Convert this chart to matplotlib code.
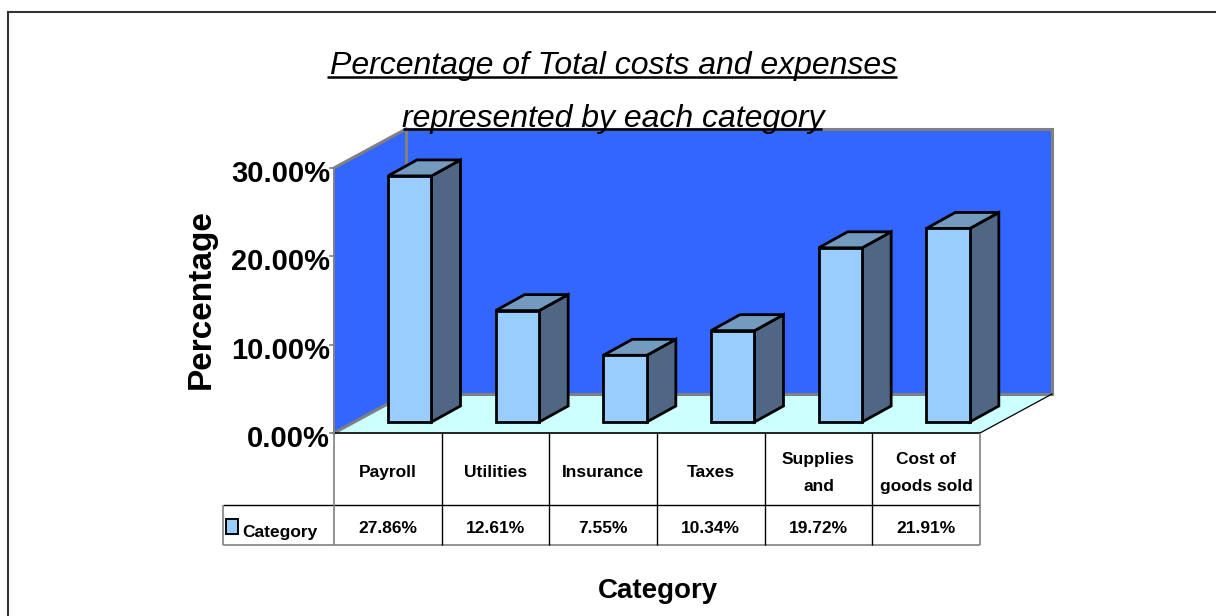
import matplotlib
matplotlib.use("Agg")
import matplotlib.pyplot as plt
from matplotlib.patches import Polygon, Rectangle
from matplotlib.transforms import Affine2D

categories = ["Payroll", "Utilities", "Insurance", "Taxes", "Supplies\nand", "Cost of\ngoods sold"]
values = [27.86, 12.61, 7.55, 10.34, 19.72, 21.91]
value_labels = ["27.86%", "12.61%", "7.55%", "10.34%", "19.72%", "21.91%"]
y_ticks = [0, 10, 20, 30]
y_tick_labels = ["0.00%", "10.00%", "20.00%", "30.00%"]

W, H = 1216, 616
FONT = "Liberation Sans"
BLUE = "#3366FF"
FLOOR = "#CCFFFF"
FRONT = "#99CCFF"
SIDE = "#4F6785"
TOP = "#739ABF"
GRAY = "#808080"

fig = plt.figure(figsize=(W / 100, H / 100), dpi=100, facecolor="white")

# plano frontal del grafico en pixeles
x0, x1, y0, y1 = 334, 980, 433, 168
ax = fig.add_axes([x0 / W, (H - y0) / H, (x1 - x0) / W, (y0 - y1) / H])
ax.set_xlim(0, len(categories))
ax.set_ylim(0, 30)
ax.axis("off")

# pixeles -> unidades de datos
ux = (x1 - x0) / len(categories)
uy = (y0 - y1) / 30
depth_x, depth_y = 72 / ux, 39 / uy       # profundidad de la caja
bar_dx, bar_dy = 29 / ux, 16 / uy         # profundidad de cada barra
bar_w = 43.5 / ux
off_x, off_y = 0.5015, 11 / uy            # posicion de la barra dentro de la celda

# transform en pixeles de imagen para marco y tabla
px = Affine2D().scale(1, -1).translate(0, H)


def poly(ax_, pts, fc, ec="none", lw=0, z=1):
    ax_.add_patch(Polygon(pts, closed=True, facecolor=fc, edgecolor=ec, linewidth=lw,
                          joinstyle="miter", clip_on=False, zorder=z))


def line_px(xs, ys, color="black", lw=1.0, z=6):
    fig.add_artist(plt.Line2D(xs, ys, color=color, linewidth=lw, transform=px, zorder=z,
                              solid_capstyle="butt"))


n = len(categories)
# paredes y piso
poly(ax, [(depth_x, 30 + depth_y), (n + depth_x, 30 + depth_y), (n + depth_x, depth_y), (depth_x, depth_y)], BLUE, z=1)
poly(ax, [(0, 0), (0, 30), (depth_x, 30 + depth_y), (depth_x, depth_y)], BLUE, z=1)
poly(ax, [(0, 0), (n, 0), (n + depth_x, depth_y), (depth_x, depth_y)], FLOOR, z=2)

gray_lines = [
    ([0, depth_x], [30, 30 + depth_y]),
    ([depth_x, n + depth_x], [30 + depth_y, 30 + depth_y]),
    ([n + depth_x, n + depth_x], [30 + depth_y, depth_y]),
    ([depth_x, depth_x], [30 + depth_y, depth_y]),
    ([depth_x, n + depth_x], [depth_y, depth_y]),
    ([0, depth_x], [0, depth_y]),
]
for xs, ys in gray_lines:
    ax.plot(xs, ys, color=GRAY, lw=2.2, clip_on=False, zorder=3, solid_capstyle="projecting")
ax.plot([n, n + depth_x], [0, depth_y], color="black", lw=0.9, clip_on=False, zorder=3)
ax.plot([0, n], [0, 0], color="black", lw=1.2, clip_on=False, zorder=3)

# barras
for i, v in enumerate(values):
    left = i + off_x
    right = left + bar_w
    base = off_y
    top = off_y + v
    poly(ax, [(right, base), (right + bar_dx, base + bar_dy), (right + bar_dx, top + bar_dy), (right, top)],
         SIDE, "black", 2.0, z=4)
    poly(ax, [(left, top), (right, top), (right + bar_dx, top + bar_dy), (left + bar_dx, top + bar_dy)],
         TOP, "black", 2.0, z=4)
    ax.bar(left, v, width=bar_w, bottom=base, align="edge", color=FRONT, edgecolor="black",
           linewidth=2.0, clip_on=False, zorder=5)

# eje y
ax.plot([0, 0], [0, 30], color=GRAY, lw=1.4, clip_on=False, zorder=6)
for t, lab in zip(y_ticks, y_tick_labels):
    ax.plot([-4 / ux, 0], [t, t], color=GRAY, lw=1.2, clip_on=False, zorder=6)
    ax.text(-4 / ux, t - 6 / uy, lab, ha="right", va="center", fontsize=21, fontweight="bold",
            family=FONT, color="black", clip_on=False)

# tabla de datos
row1, row2 = 504.5, 545
left_tb = 222.5
line_px([left_tb, x1], [row1, row1])
line_px([left_tb, x1], [row2, row2], GRAY, 1.2)
line_px([left_tb, left_tb], [row1, row2], GRAY, 1.2)
line_px([x0, x0], [y0, row2], GRAY, 1.2)
line_px([x1, x1], [y0, row2], GRAY, 1.2)
for i in range(1, n):
    xp = x0 + i * ux
    line_px([xp, xp], [y0, row2], "black", 1.0)

for i, (cat, lab) in enumerate(zip(categories, value_labels)):
    xp = x0 + (i + 0.5) * ux
    fig.text(xp, (y0 + row1) / 2 + 4, cat, transform=px, ha="center", va="center", fontsize=12.5,
             fontweight="bold", family=FONT, linespacing=2.0)
    fig.text(xp, (row1 + row2) / 2 + 4, lab, transform=px, ha="center", va="center", fontsize=12.5,
             fontweight="bold", family=FONT)

# leyenda
fig.add_artist(Rectangle((226, 519), 12, 15, transform=px, facecolor=FRONT, edgecolor="black", linewidth=1.4))
fig.text(242, 532, "Category", transform=px, ha="left", va="center", fontsize=12.5, fontweight="bold", family=FONT)

# titulos
fig.text(613.5, 66, "Percentage of Total costs and expenses", transform=px, ha="center", va="center",
         fontsize=23, fontstyle="italic", family=FONT, zorder=8)
fig.text(613, 119, "represented by each category", transform=px, ha="center", va="center",
         fontsize=23, fontstyle="italic", family=FONT, zorder=8)
line_px([327, 897], [77, 77], "black", 1.8, z=8)
line_px([403, 822], [129, 129], "black", 1.8, z=8)

fig.text(201, 299, "Percentage", transform=px, rotation=90, ha="center", va="center", fontsize=24,
         fontweight="bold", family=FONT)
fig.text(658, 591, "Category", transform=px, ha="center", va="center", fontsize=20,
         fontweight="bold", family=FONT)

# marco exterior: solo izquierda y arriba
line_px([7.5, 7.5], [H, 11.5], "#333333", 1.5)
line_px([7, W], [11.5, 11.5], "#333333", 1.5)

fig.savefig("out.png", dpi=100, facecolor="white")
